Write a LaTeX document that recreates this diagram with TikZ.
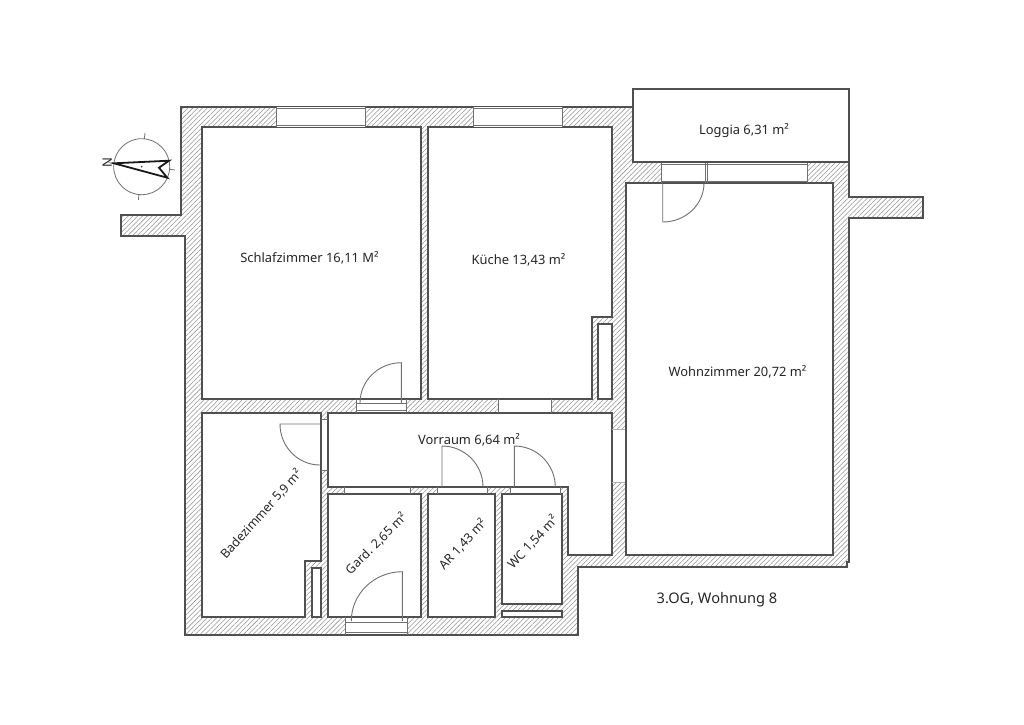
\documentclass[tikz,border=0pt]{standalone}
\usepackage{fontspec}
\setmainfont{Noto Sans}
\usetikzlibrary{patterns.meta}
\definecolor{wallline}{HTML}{505050}
\definecolor{thinline}{HTML}{707070}
\tikzset{
    wall/.style={draw=wallline,line width=1.1pt,pattern={Lines[angle=45,distance=3.4pt,line width=.55pt]},pattern color=black!42},
    room/.style={draw=wallline,line width=1.1pt,fill=white,line join=miter},
    opening/.style={fill=white,draw=none},
    frame/.style={draw=thinline,line width=.9pt},
    door/.style={draw=thinline,line width=.9pt},
    label/.style={font=\fontsize{12.9}{14}\selectfont,text=black!85,inner sep=0pt},
    tilted/.style={label,font=\fontsize{12.5}{14}\selectfont},
}
\begin{document}
\begin{tikzpicture}[x=1pt,y=-1pt]
    \useasboundingbox (0,0) rectangle (1024,724);
    % walls
    \draw[wall] (181,107) -- (633,107) -- (633,162) -- (849,162) -- (849,197) -- (923,197) -- (923,218) -- (849,218)
        -- (849,562) -- (847,562) -- (847,567) -- (578,567) -- (578,635) -- (185,635) -- (185,236) -- (121,236) -- (121,215) -- (181,215) -- cycle;
    \draw[room] (633,89) rectangle (849,162);
    % rooms
    \draw[room] (202,127) rectangle (421,399);
    \draw[room] (428,127) -- (612,127) -- (612,317) -- (592,317) -- (592,399) -- (428,399) -- cycle;
    \draw[room] (626,183) rectangle (833,555);
    \draw[room] (328,413) -- (612,413) -- (612,555) -- (568,555) -- (568,487) -- (328,487) -- cycle;
    \draw[room] (202,413) -- (321,413) -- (321,561) -- (305,561) -- (305,617) -- (202,617) -- cycle;
    \draw[room] (328,494) rectangle (421,617);
    \draw[room] (428,494) rectangle (495,617);
    \draw[room] (502,494) rectangle (562,604);
    % shafts
    \draw[room] (598,324) rectangle (612,399);
    \draw[room] (312,568) rectangle (321,617);
    \draw[room] (502,611) rectangle (562,617);
    % windows
    \foreach \xa/\xb in {276/365,473/562}{
        \fill[opening] (\xa,107) rectangle (\xb,127);
        \draw[frame] (\xa,107) -- (\xa,127) (\xb,107) -- (\xb,127);
        \draw[frame] (\xa,108.5) -- (\xb,108.5) (\xa,125) -- (\xb,125);
    }
    \fill[opening] (661,163) rectangle (807,182);
    \draw[frame] (661,163) -- (661,183) (807,163) -- (807,183) (705,163) -- (705,183) (707,163) -- (707,183);
    \draw[frame] (661,164.5) -- (807,164.5) (661,181) -- (807,181);
    \fill[opening] (345,618) rectangle (407,634);
    \draw[frame] (345,617) -- (345,635) (407,617) -- (407,635);
    \draw[frame] (345,622) -- (407,622) (345,632) -- (407,632);
    % openings
    \fill[opening] (356,400) rectangle (406,412);
    \draw[frame] (356,399) -- (356,413) (406,399) -- (406,413);
    \draw[frame] (356,403) -- (406,403) (356,410) -- (406,410);
    \fill[opening] (498.5,400) rectangle (551,412);
    \draw[frame,line width=.5pt] (498.5,399) -- (498.5,413) (551,399) -- (551,413);
    \fill[opening] (321.8,419) rectangle (327.2,470);
    \draw[frame,line width=.5pt] (321,419) -- (328,419) (321,470) -- (328,470);
    \fill[opening] (612.8,429) rectangle (625.2,482);
    \draw[draw=black!30,line width=.6pt] (612,429) -- (625,429) (612,482) -- (625,482);
    \foreach \xa/\xb in {344.5/410.5,437.5/487,510/560}{
        \fill[opening] (\xa,487.8) rectangle (\xb,493.2);
        \draw[frame,line width=.5pt] (\xa,487) -- (\xa,494) (\xb,487) -- (\xb,494);
    }
    % doors
    \draw[door] (662.7,183) -- (662.7,222) arc (90:0:41.3 and 39);
    \draw[door] (401.3,403) -- (401.3,362.7) arc (-90:-180:41.3 and 40.3);
    \draw[door] (320,424) -- (280,424) arc (180:90:40 and 41);
    \draw[door] (402.3,621) -- (402.3,571.7) arc (-90:-180:51 and 49.3);
    \draw[door] (442,487) -- (442,446) arc (-90:0:41);
    \draw[door] (514.3,487) -- (514.3,446) arc (-90:0:41);
    % north arrow
    \draw[draw=thinline,line width=.8pt] (141.7,166.7) circle (28);
    \draw[draw=thinline,line width=.8pt] (144.3,139) -- (145,133) (169.7,169.3) -- (175,170) (139,194.3) -- (138.4,200);
    \draw[draw=black!90,line width=1.8pt,line join=miter] (114,163.3) -- (169,160.7) -- (159,167.7) -- (167.3,177.7) -- cycle;
    \fill[black!80] (141.7,166.7) circle (.9);
    \node[label,rotate=90,font=\fontsize{13}{14}\selectfont\bfseries] (north) at (107.3,163) {N};
    % labels
    \node[label] (schlafzimmer) at (309.5,257.7) {Schlafzimmer 16,11 M²};
    \node[label] (kueche) at (518.5,259.5) {Küche 13,43 m²};
    \node[label] (loggia) at (744,130.7) {Loggia 6,31 m²};
    \node[label] (wohnzimmer) at (737.5,371.5) {Wohnzimmer 20,72 m²};
    \node[label] (vorraum) at (469,439.5) {Vorraum 6,64 m²};
    \node[tilted,rotate=48] (badezimmer) at (261,514) {Badezimmer 5,9 m²};
    \node[tilted,rotate=45] (gard) at (376,543.5) {Gard. 2,65 m²};
    \node[tilted,rotate=47] (ar) at (462.5,544) {AR 1,43 m²};
    \node[tilted,rotate=47] (wc) at (532.5,542) {WC 1,54 m²};
    \node[label,font=\fontsize{14.6}{17}\selectfont] (wohnung) at (717,600) {3.OG, Wohnung 8};
\end{tikzpicture}
\end{document}
